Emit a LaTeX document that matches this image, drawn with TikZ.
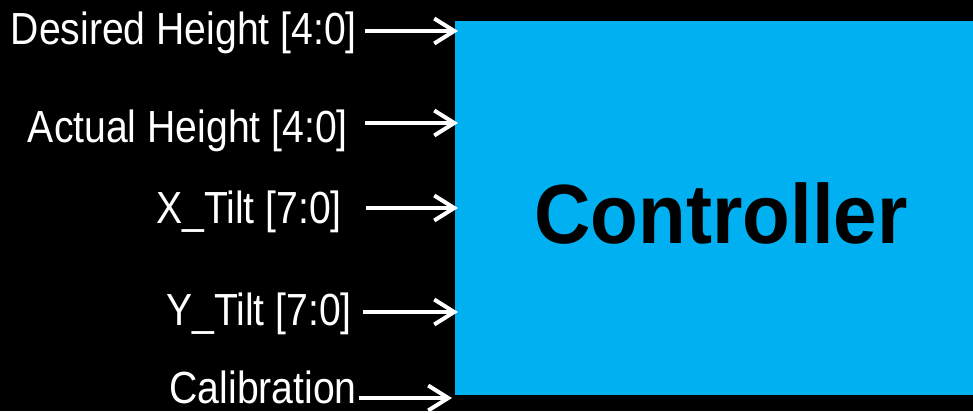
\documentclass[tikz,border=0pt]{standalone}
\usepackage{fontspec}
\setmainfont{Liberation Sans}
\newfontfamily\narrowsans[FakeStretch=0.87]{Liberation Sans}
\newfontfamily\narrowbold[FakeStretch=0.93]{Liberation Sans Bold}
\usetikzlibrary{arrows.meta}
\definecolor{ctrlblue}{RGB}{0,176,240}

\begin{document}
\begin{tikzpicture}[x=1pt,y=-1pt,
  lbl/.style={white,anchor=base east,inner sep=0pt,font=\narrowsans\fontsize{45}{45}\selectfont},
  sig/.style={white,line width=4pt,-{Straight Barb[length=20pt,width=25pt]}},
  ctrlbox/.style={fill=ctrlblue,draw=none,inner sep=0pt,minimum width=518pt,minimum height=374pt}]

\fill [black] (0,0) rectangle (973,411);

\node[ctrlbox] (ctrl) at (714,208) {};
\node[black,font=\narrowbold\fontsize{84}{84}\selectfont] (ctrlname) at (721,213) {Controller};

\node[lbl] (desired) at (357,44) {Desired Height [4:0]};
\node[lbl] (actual) at (348,142) {Actual Height [4:0]};
\node[lbl] (xtilt) at (342,223) {X\_Tilt [7:0]};
\node[lbl] (ytilt) at (352,325) {Y\_Tilt [7:0]};
\node[lbl] (calib) at (357,403) {Calibration};

\coordinate (dhin) at (458,31);
\coordinate (ahin) at (458,123);
\coordinate (xin) at (458,208);
\coordinate (yin) at (458,312);
\coordinate (calin) at (452,398);

\draw[sig] ([xshift=8pt]desired.east |- dhin) -- (dhin);
\draw[sig] ([xshift=17pt]actual.east |- ahin) -- (ahin);
\draw[sig] ([xshift=24pt]xtilt.east |- xin) -- (xin);
\draw[sig] ([xshift=11pt]ytilt.east |- yin) -- (yin);
\draw[sig] ([xshift=2pt]calib.east |- calin) -- (calin);
\end{tikzpicture}
\end{document}
